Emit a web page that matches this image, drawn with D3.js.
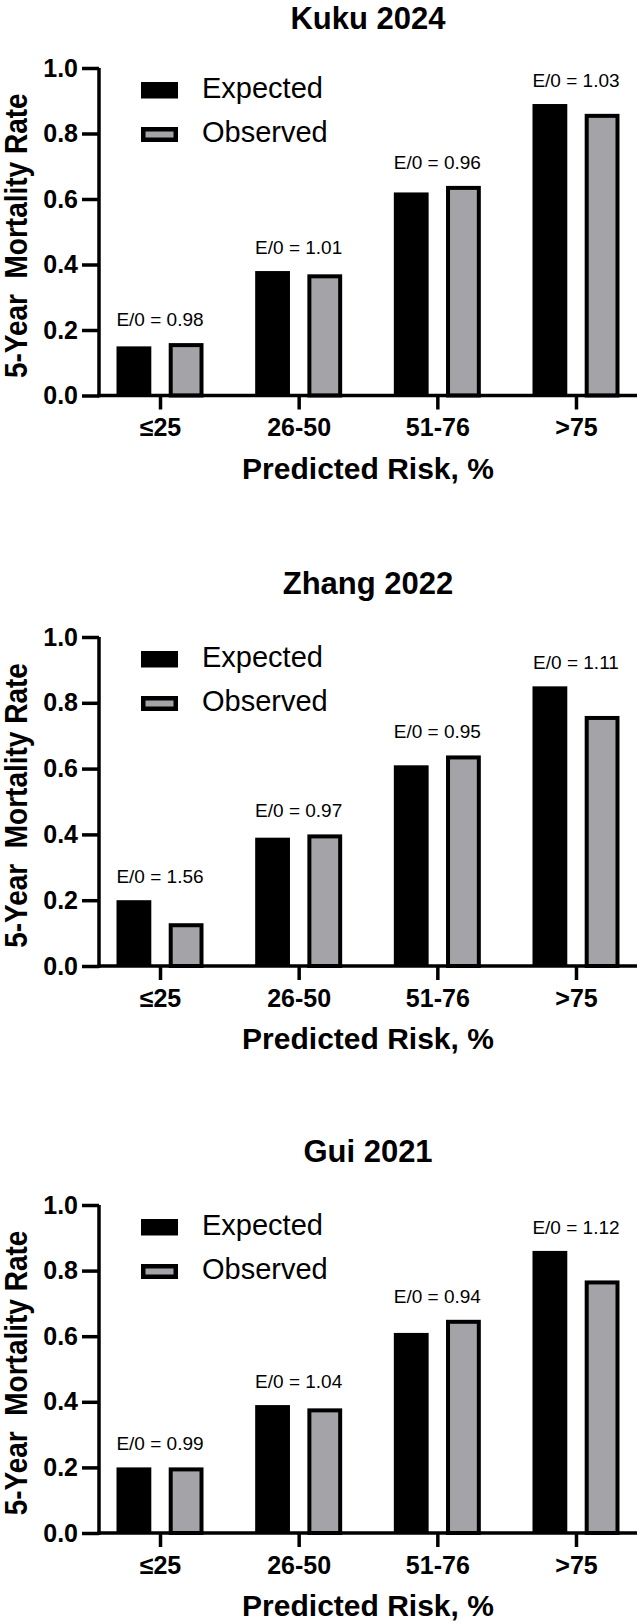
<!DOCTYPE html>
<html>
<head>
<meta charset="utf-8">
<script src="https://cdn.jsdelivr.net/npm/d3@7"></script>
<style>
  html, body { margin: 0; padding: 0; background: #ffffff; }
  svg { display: block; }
  text { font-family: "Liberation Sans", Arial, Helvetica, sans-serif; fill: #000; }
</style>
</head>
<body>
<script>
// ---------------- data ----------------
const categories = ["≤25", "26-50", "51-76", ">75"];
const seriesNames = ["Expected", "Observed"];
const panelTitles = ["Kuku 2024", "Zhang 2022", "Gui 2021"];
const yTicks = [0, 0.2, 0.4, 0.6, 0.8, 1.0];

const expectedKuku = [0.15, 0.38, 0.62, 0.89];
const observedKuku = [0.16, 0.37, 0.64, 0.86];
const eoKuku = ["0.98", "1.01", "0.96", "1.03"];

const expectedZhang = [0.20, 0.39, 0.61, 0.85];
const observedZhang = [0.13, 0.40, 0.64, 0.76];
const eoZhang = ["1.56", "0.97", "0.95", "1.11"];

const expectedGui = [0.20, 0.39, 0.61, 0.86];
const observedGui = [0.20, 0.38, 0.65, 0.77];
const eoGui = ["0.99", "1.04", "0.94", "1.12"];

const xTitle = "Predicted Risk, %";
const yTitle = "5-Year\u00A0\u00A0Mortality Rate";

// ---------------- layout ----------------
const W = 642, H = 1624;
const panels = [
  { title: panelTitles[0], exp: expectedKuku, obs: observedKuku, eo: eoKuku, top: 68, bottom: 395.5, titleY: 28.5 },
  { title: panelTitles[1], exp: expectedZhang, obs: observedZhang, eo: eoZhang, top: 637, bottom: 966, titleY: 594 },
  { title: panelTitles[2], exp: expectedGui, obs: observedGui, eo: eoGui, top: 1205, bottom: 1533, titleY: 1162 }
];
const axisLeftX = 99, axisRightX = 637;
const colExp = "#000000", colObs = "#a3a3a8";
const axisW = 3.5, obsStroke = 4;
const FONT = "'Liberation Sans', Arial, sans-serif";

const svg = d3.select("body").append("svg")
  .attr("width", W).attr("height", H)
  .attr("viewBox", `0 0 ${W} ${H}`);

const x = d3.scalePoint().domain(categories).range([axisLeftX, axisRightX]).padding(0.44);
const xs = d3.scaleBand().domain(seriesNames).range([-43.5, 43.5]).paddingInner(1 / 3);

panels.forEach(p => {
  const g = svg.append("g");
  const y = d3.scaleLinear().domain([0, 1]).range([p.bottom, p.top]);
  const midX = (axisLeftX + axisRightX) / 2;

  // title
  g.append("text")
    .attr("x", midX).attr("y", p.titleY)
    .attr("text-anchor", "middle")
    .style("font-size", "31px").style("font-weight", "bold")
    .text(p.title);

  // bars
  const rows = categories.map((c, i) => ({ c, i, exp: p.exp[i], obs: p.obs[i], eo: p.eo[i] }));
  const bw = xs.bandwidth();

  g.selectAll("rect.exp").data(rows).join("rect")
    .attr("class", "exp")
    .attr("x", d => x(d.c) + xs("Expected"))
    .attr("width", bw)
    .attr("y", d => y(d.exp))
    .attr("height", d => y(0) - y(d.exp))
    .attr("fill", colExp);

  g.selectAll("rect.obs").data(rows).join("rect")
    .attr("class", "obs")
    .attr("x", d => x(d.c) + xs("Observed") + obsStroke / 2)
    .attr("width", bw - obsStroke)
    .attr("y", d => y(d.obs) + obsStroke / 2)
    .attr("height", d => y(0) - y(d.obs) - obsStroke / 2)
    .attr("fill", colObs)
    .attr("stroke", "#000")
    .attr("stroke-width", obsStroke);

  // E/O labels
  g.selectAll("text.eo").data(rows).join("text")
    .attr("class", "eo")
    .attr("x", d => x(d.c))
    .attr("y", d => y(Math.max(d.exp, d.obs)) - 17)
    .attr("text-anchor", "middle")
    .style("font-size", "19px")
    .text(d => "E/0 = " + d.eo);

  // y axis
  const yAxis = g.append("g")
    .attr("transform", `translate(${axisLeftX},0)`)
    .call(d3.axisLeft(y).tickValues(yTicks).tickFormat(d3.format(".1f")).tickSize(17).tickSizeOuter(0).tickPadding(4));
  yAxis.select(".domain").attr("stroke", "#000").attr("stroke-width", axisW).attr("d", `M0,${y(0) + axisW / 2}V${y(1)}`);
  yAxis.selectAll(".tick line").attr("stroke", "#000").attr("stroke-width", axisW);
  yAxis.selectAll(".tick text")
    .style("font-size", "25px").style("font-weight", "bold")
    .style("font-family", FONT).attr("fill", "#000");

  // x axis
  const xAxis = g.append("g")
    .attr("transform", `translate(0,${y(0)})`)
    .call(d3.axisBottom(x).tickSize(14).tickSizeOuter(0).tickPadding(12));
  xAxis.select(".domain").attr("stroke", "#000").attr("stroke-width", axisW).attr("d", `M${axisLeftX - axisW / 2},0H${axisRightX}`);
  xAxis.selectAll(".tick line").attr("stroke", "#000").attr("stroke-width", axisW);
  xAxis.selectAll(".tick text")
    .attr("dy", null).attr("y", 40.5)
    .style("font-size", "25px").style("font-weight", "bold")
    .style("font-family", FONT).attr("fill", "#000");

  // x title
  g.append("text")
    .attr("x", midX).attr("y", y(0) + 83)
    .attr("text-anchor", "middle")
    .style("font-size", "30px").style("font-weight", "bold")
    .text(xTitle);

  // y title (slightly widened glyphs, as in the reference)
  g.append("text")
    .attr("transform", `translate(27,${(p.top + p.bottom) / 2 + 4}) rotate(-90) scale(1,1.12)`)
    .attr("text-anchor", "middle")
    .style("font-size", "28px").style("font-weight", "bold")
    .text(yTitle);

  // legend
  const lg = g.append("g").attr("transform", `translate(141,${p.top})`);
  lg.append("rect").attr("x", 0).attr("y", 14).attr("width", 37).attr("height", 16.5).attr("fill", colExp);
  lg.append("rect").attr("x", 2.25).attr("y", 59 + 2.25).attr("width", 32.5).attr("height", 10.5)
    .attr("fill", colObs).attr("stroke", "#000").attr("stroke-width", 4.5);
  lg.append("text").attr("x", 61).attr("y", 29.5).style("font-size", "29px").text(seriesNames[0]);
  lg.append("text").attr("x", 61).attr("y", 74).style("font-size", "29px").text(seriesNames[1]);
});
</script>
</body>
</html>
